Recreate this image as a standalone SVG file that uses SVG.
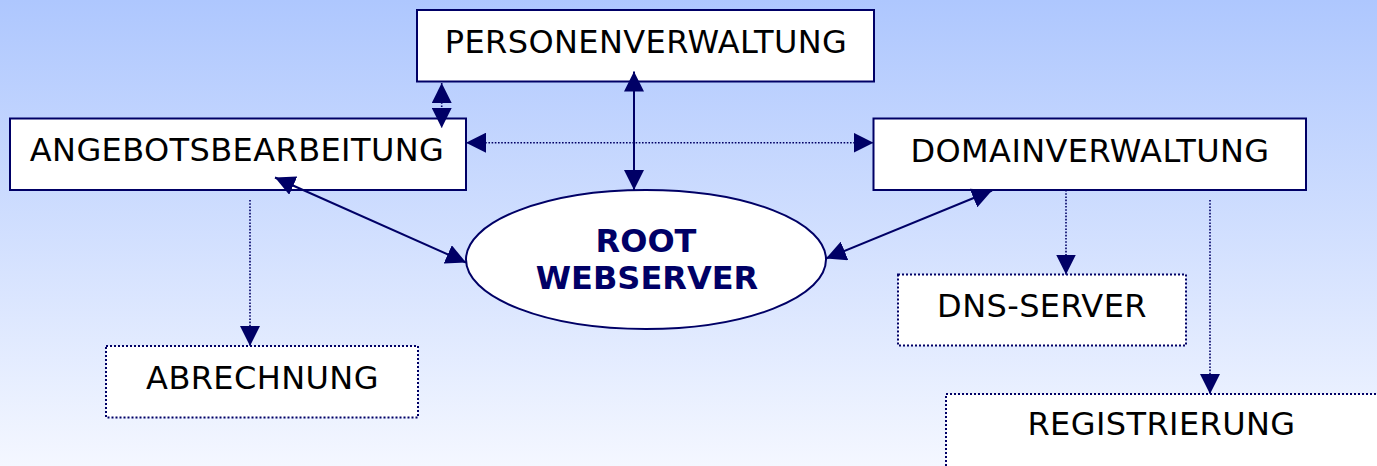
<svg xmlns="http://www.w3.org/2000/svg" width="1377" height="466" viewBox="0 0 1377 466">
  <defs>
    <linearGradient id="bg" x1="0" y1="0" x2="0" y2="1">
      <stop offset="0" stop-color="#aec7fe"/>
      <stop offset="1" stop-color="#f4f7ff"/>
    </linearGradient>
    <marker id="ah" viewBox="0 0 20 20" refX="20" refY="10" markerWidth="20" markerHeight="20" markerUnits="userSpaceOnUse" orient="auto-start-reverse">
      <path d="M0,0 L20,10 L0,20 z" fill="#000066"/>
    </marker>
    <style>
      .box { fill: #ffffff; stroke: #000066; stroke-width: 2; }
      .dbox { fill: #ffffff; stroke: #000066; stroke-width: 2; stroke-dasharray: 2 2; }
      .lbl { font-family: "DejaVu Sans", Verdana, sans-serif; font-size: 32px; letter-spacing: 0.4px; fill: #000000; text-anchor: middle; }
      .root { font-family: "DejaVu Sans", Verdana, sans-serif; font-size: 32px; font-weight: bold; fill: #000066; text-anchor: middle; }
      .solid { stroke: #000066; stroke-width: 2; fill: none; }
      .dot { stroke: #000066; stroke-width: 1.6; stroke-dasharray: 1.6 1.6; fill: none; }
    </style>
  </defs>
  <rect x="0" y="0" width="1377" height="466" fill="url(#bg)"/>

  <g id="personenverwaltung">
    <rect class="box" x="417" y="10" width="457" height="71.5"/>
    <text class="lbl" x="646" y="53">PERSONENVERWALTUNG</text>
  </g>
  <g id="angebotsbearbeitung">
    <rect class="box" x="10" y="118.5" width="456" height="71.5"/>
    <text class="lbl" x="237" y="161">ANGEBOTSBEARBEITUNG</text>
  </g>
  <g id="domainverwaltung">
    <rect class="box" x="873.5" y="118.5" width="432.5" height="71.5"/>
    <text class="lbl" x="1090" y="161.5">DOMAINVERWALTUNG</text>
  </g>
  <g id="root-webserver">
    <ellipse cx="646" cy="259.5" rx="180" ry="69.5" fill="#ffffff" stroke="#000066" stroke-width="2"/>
    <text class="root" x="646" y="252">ROOT</text>
    <text class="root" x="647" y="289">WEBSERVER</text>
  </g>
  <g id="abrechnung">
    <rect class="dbox" x="106" y="346" width="312" height="71.5"/>
    <text class="lbl" x="262.5" y="389">ABRECHNUNG</text>
  </g>
  <g id="dns-server">
    <rect class="dbox" x="898" y="274.5" width="288" height="71"/>
    <text class="lbl" x="1042" y="317">DNS-SERVER</text>
  </g>
  <g id="registrierung">
    <rect class="dbox" x="946" y="394" width="440" height="80"/>
    <text class="lbl" x="1161.5" y="435">REGISTRIERUNG</text>
  </g>

  <g id="connectors">
    <line class="dot" x1="441.7" y1="83" x2="441.7" y2="128" marker-start="url(#ah)" marker-end="url(#ah)"/>
    <line class="solid" x1="634" y1="71.5" x2="634" y2="190" marker-start="url(#ah)" marker-end="url(#ah)"/>
    <line class="dot" x1="466" y1="142.7" x2="873.5" y2="142.7" marker-start="url(#ah)" marker-end="url(#ah)"/>
    <line class="solid" x1="275" y1="177.5" x2="466" y2="262.5" marker-start="url(#ah)" marker-end="url(#ah)"/>
    <line class="solid" x1="992" y1="190.5" x2="826" y2="258.5" marker-start="url(#ah)" marker-end="url(#ah)"/>
    <line class="dot" x1="250" y1="200" x2="250" y2="346" marker-end="url(#ah)"/>
    <line class="dot" x1="1066" y1="190" x2="1066" y2="274.5" marker-end="url(#ah)"/>
    <line class="dot" x1="1210" y1="200" x2="1210" y2="394" marker-end="url(#ah)"/>
  </g>
</svg>
